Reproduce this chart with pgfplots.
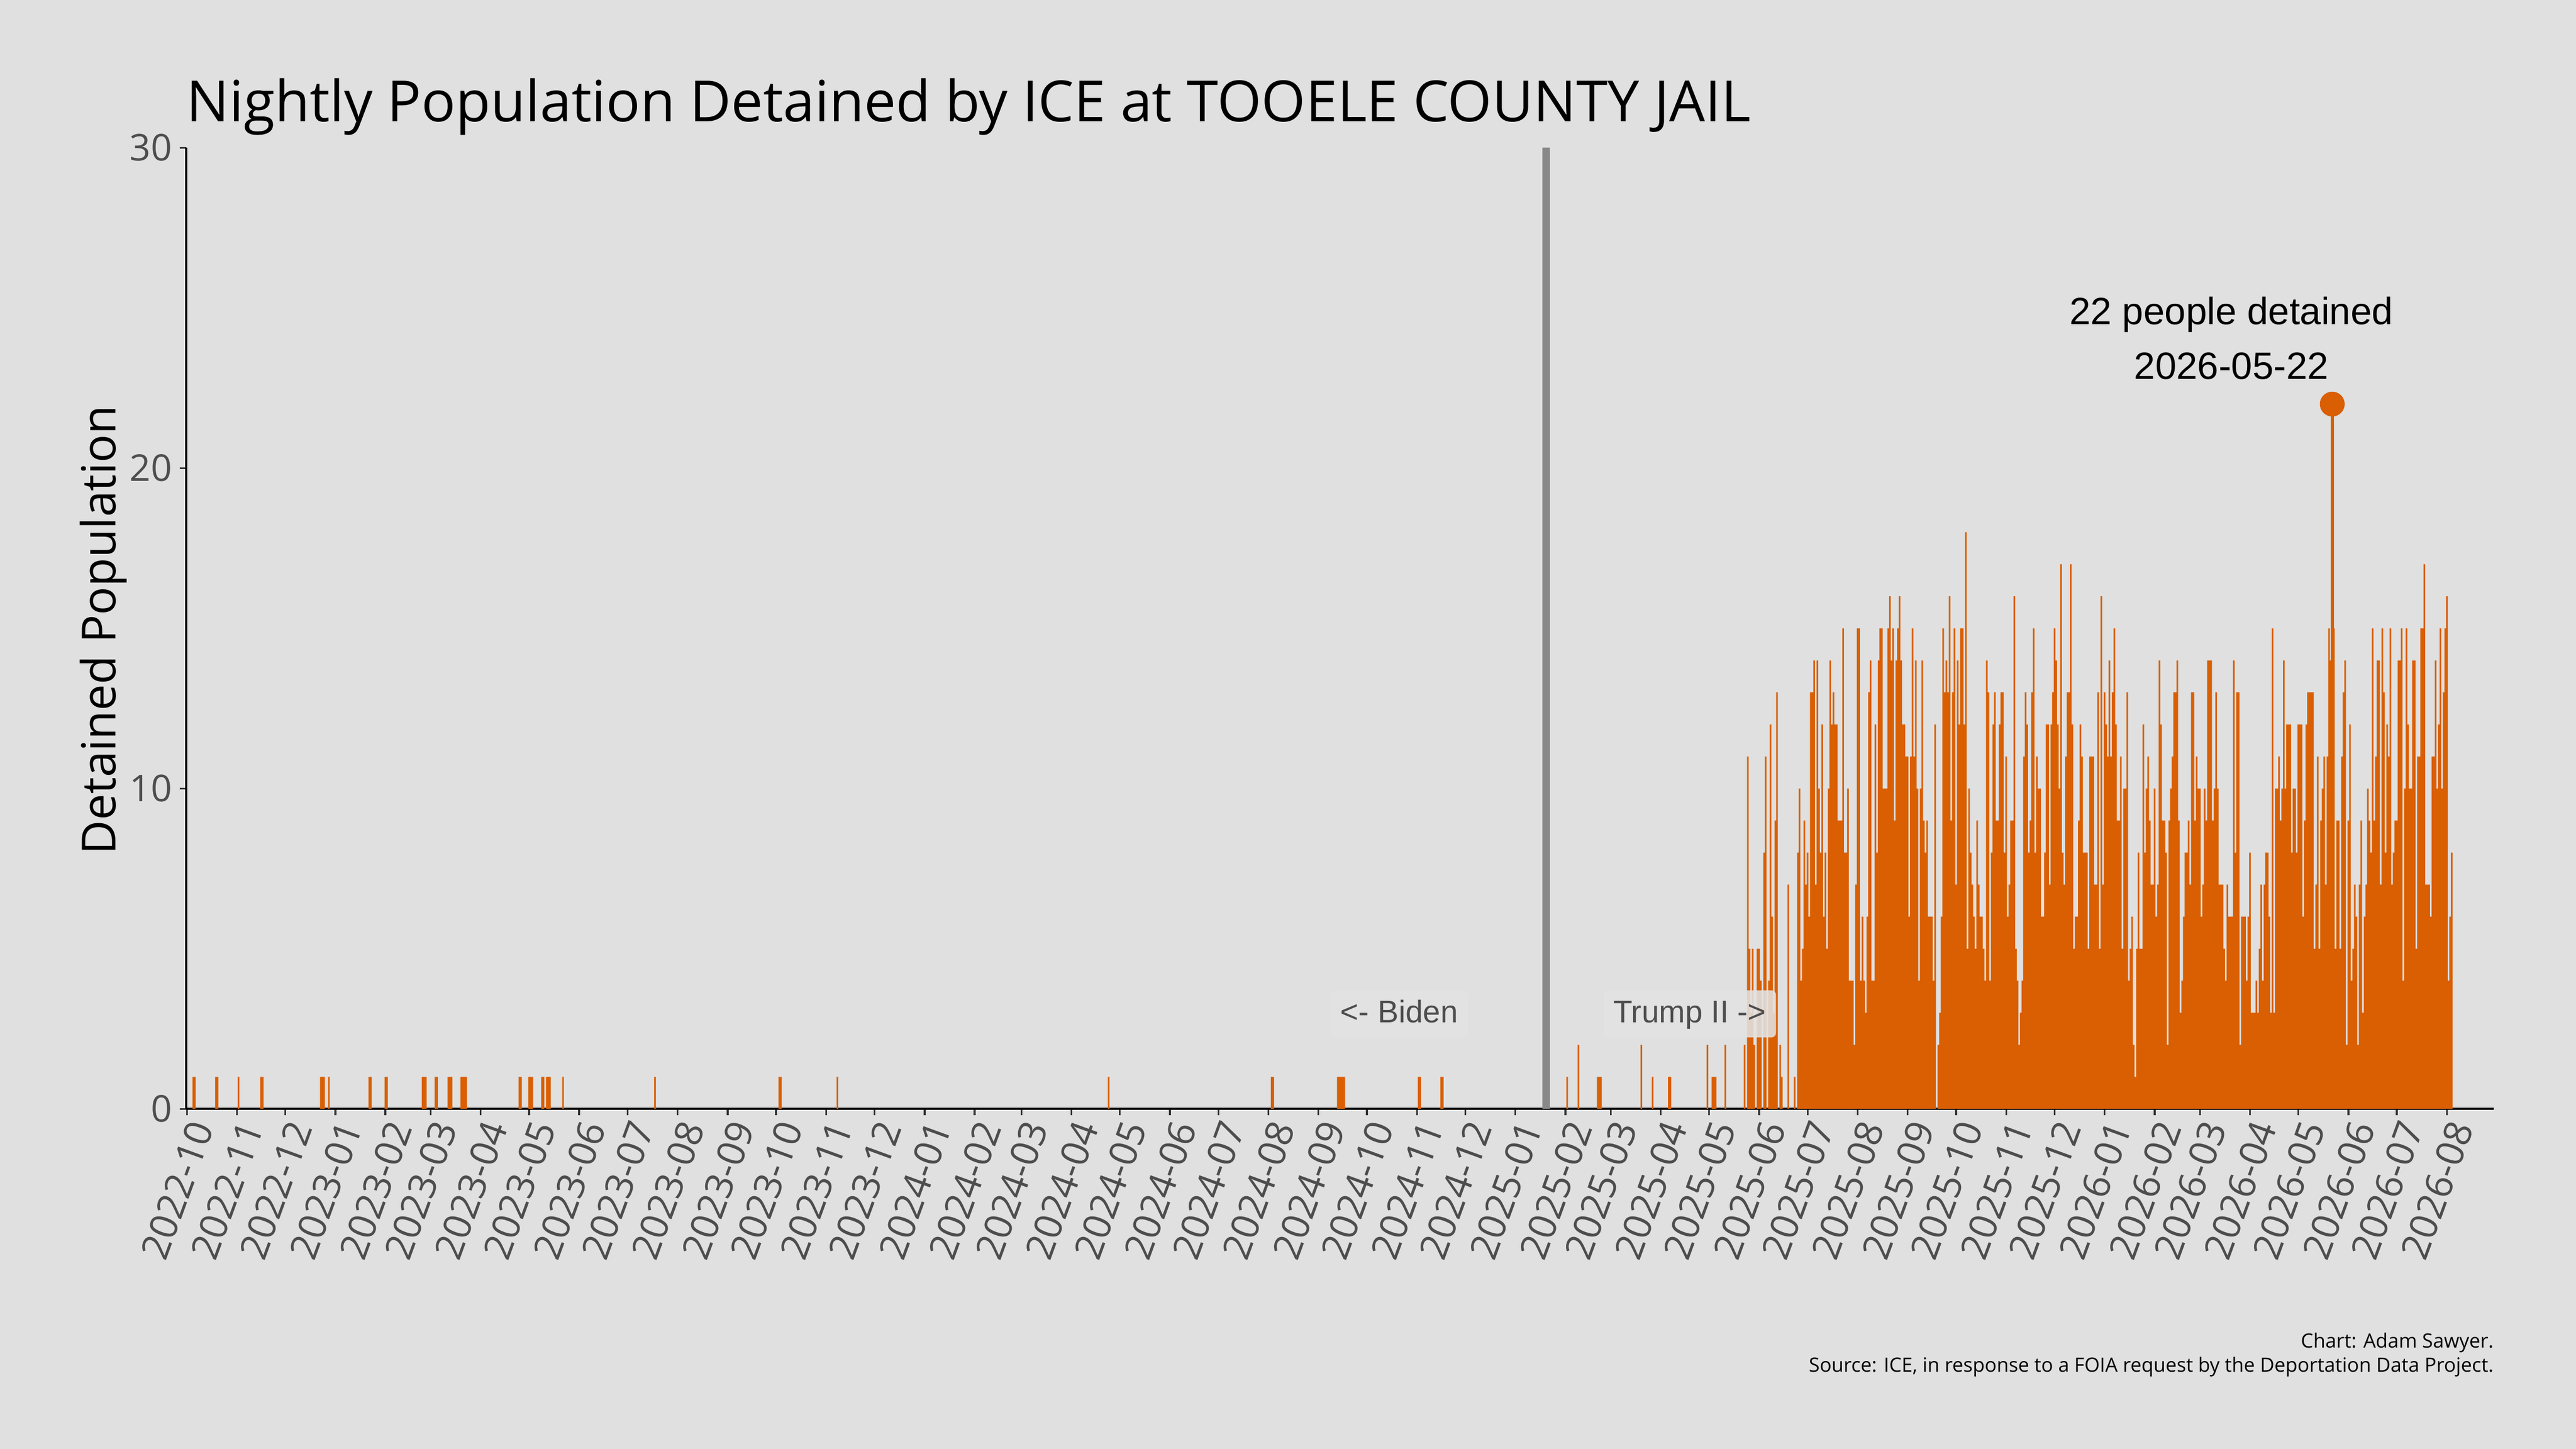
\documentclass[border=0pt]{standalone}
\usepackage{fontspec}
\setmainfont{Open Sans}
\newfontfamily\arialfont{Liberation Sans}
\usepackage{pgfplots}
\usepackage{pgfplotstable}
\pgfplotsset{compat=1.18}

\definecolor{bg}{HTML}{E0E0E0}
\definecolor{barcol}{HTML}{D95F02}
\definecolor{vline}{HTML}{888888}
\definecolor{tickgray}{HTML}{333333}
\definecolor{labgray}{HTML}{4D4D4D}
\definecolor{boxfill}{HTML}{E3E3E3}

% x = days since 2022-10-01, y = people held that night (zero rows only frame the runs)
\pgfplotstableread[row sep=\\]{
day pop\\
3 0\\4 1\\5 1\\6 0\\17 0\\18 1\\19 1\\20 0\\31 0\\32 1\\33 0\\45 0\\46 1\\47 1\\48 0\\
82 0\\83 1\\84 1\\85 1\\86 0\\87 0\\88 1\\89 0\\112 0\\113 1\\114 1\\115 0\\
122 0\\123 1\\124 1\\125 0\\145 0\\146 1\\147 1\\148 1\\149 0\\153 0\\154 1\\155 1\\156 0\\
161 0\\162 1\\163 1\\164 1\\165 0\\169 0\\170 1\\171 1\\172 1\\173 1\\174 0\\
205 0\\206 1\\207 1\\208 0\\211 0\\212 1\\213 1\\214 1\\215 0\\
219 0\\220 1\\221 1\\222 0\\223 1\\224 1\\225 1\\226 0\\232 0\\233 1\\234 0\\
289 0\\290 1\\291 0\\366 0\\367 1\\368 1\\369 0\\402 0\\403 1\\404 0\\570 0\\571 1\\572 0\\
671 0\\672 1\\673 1\\674 0\\712 0\\713 1\\714 1\\715 1\\716 1\\717 1\\718 0\\
762 0\\763 1\\764 1\\765 0\\776 0\\777 1\\778 1\\779 0\\
842 0\\843 1\\844 0\\854 0\\855 1\\856 0\\861 0\\862 2\\863 0\\873 0\\874 1\\875 1\\876 1\\877 0\\
900 0\\901 2\\902 0\\907 0\\908 1\\909 0\\917 0\\918 1\\919 1\\920 0\\
941 0\\942 2\\943 0\\944 0\\945 1\\946 1\\947 1\\948 0\\952 0\\953 2\\954 0\\
964 0\\965 2\\966 0\\967 11\\968 5\\969 3\\970 5\\971 2\\972 0\\973 5\\974 5\\975 4\\976 0\\
977 8\\978 11\\979 0\\980 4\\981 12\\982 6\\983 3\\984 9\\985 13\\986 0\\987 2\\988 1\\989 0\\
991 0\\992 7\\993 0\\995 0\\996 1\\997 0\\
998 8\\999 10\\1000 4\\1001 5\\1002 9\\1003 7\\1004 8\\1005 6\\1006 13\\1007 13\\
1008 14\\1009 7\\1010 14\\1011 10\\1012 8\\1013 12\\1014 6\\1015 8\\1016 5\\1017 10\\
1018 14\\1019 12\\1020 13\\1021 12\\1022 12\\1023 9\\1024 9\\1025 9\\1026 15\\1027 8\\
1028 8\\1029 10\\1030 4\\1031 4\\1032 4\\1033 2\\1034 7\\1035 15\\1036 15\\1037 4\\
1038 6\\1039 4\\1040 3\\1041 6\\1042 13\\1043 14\\1044 4\\1045 4\\1046 12\\1047 8\\
1048 14\\1049 15\\1050 15\\1051 10\\1052 10\\1053 10\\1054 15\\1055 16\\1056 14\\1057 15\\
1058 9\\1059 14\\1060 15\\1061 16\\1062 14\\1063 12\\1064 12\\1065 11\\1066 11\\1067 6\\
1068 11\\1069 15\\1070 11\\1071 14\\1072 10\\1073 4\\1074 10\\1075 14\\1076 9\\1077 8\\
1078 9\\1079 6\\1080 6\\1081 6\\1082 4\\1083 12\\1084 0\\1085 2\\1086 3\\1087 6\\
1088 15\\1089 13\\1090 14\\1091 13\\1092 16\\1093 9\\1094 13\\1095 15\\1096 7\\1097 14\\
1098 12\\1099 15\\1100 15\\1101 12\\1102 18\\1103 5\\1104 10\\1105 8\\1106 7\\1107 6\\
1108 5\\1109 9\\1110 7\\1111 6\\1112 6\\1113 5\\1114 4\\1115 14\\1116 13\\1117 4\\
1118 8\\1119 12\\1120 13\\1121 9\\1122 9\\1123 12\\1124 13\\1125 13\\1126 8\\1127 11\\
1128 6\\1129 7\\1130 9\\1131 9\\1132 16\\1133 5\\1134 4\\1135 2\\1136 3\\1137 4\\
1138 11\\1139 13\\1140 12\\1141 8\\1142 9\\1143 13\\1144 15\\1145 8\\1146 11\\1147 10\\
1148 10\\1149 6\\1150 6\\1151 8\\1152 12\\1153 12\\1154 7\\1155 12\\1156 13\\1157 15\\
1158 14\\1159 12\\1160 10\\1161 17\\1162 8\\1163 7\\1164 11\\1165 13\\1166 13\\1167 17\\
1168 12\\1169 5\\1170 6\\1171 6\\1172 9\\1173 12\\1174 11\\1175 8\\1176 8\\1177 8\\
1178 5\\1179 11\\1180 11\\1181 11\\1182 7\\1183 7\\1184 13\\1185 5\\1186 16\\1187 7\\
1188 13\\1189 12\\1190 11\\1191 14\\1192 11\\1193 13\\1194 15\\1195 12\\1196 9\\1197 9\\
1198 11\\1199 5\\1200 10\\1201 10\\1202 13\\1203 4\\1204 5\\1205 6\\1206 2\\1207 1\\
1208 5\\1209 8\\1210 5\\1211 5\\1212 12\\1213 8\\1214 10\\1215 11\\1216 9\\1217 7\\
1218 7\\1219 10\\1220 6\\1221 7\\1222 14\\1223 12\\1224 9\\1225 9\\1226 8\\1227 2\\
1228 9\\1229 10\\1230 11\\1231 13\\1232 13\\1233 14\\1234 9\\1235 3\\1236 4\\1237 6\\
1238 8\\1239 8\\1240 9\\1241 7\\1242 13\\1243 13\\1244 9\\1245 11\\1246 10\\1247 10\\
1248 6\\1249 7\\1250 10\\1251 9\\1252 14\\1253 14\\1254 14\\1255 9\\1256 10\\1257 13\\
1258 10\\1259 7\\1260 7\\1261 7\\1262 5\\1263 4\\1264 7\\1265 6\\1266 6\\1267 6\\
1268 14\\1269 8\\1270 13\\1271 13\\1272 2\\1273 6\\1274 6\\1275 6\\1276 4\\1277 6\\
1278 8\\1279 3\\1280 3\\1281 3\\1282 4\\1283 3\\1284 5\\1285 7\\1286 4\\1287 7\\
1288 8\\1289 8\\1290 6\\1291 3\\1292 15\\1293 3\\1294 10\\1295 10\\1296 11\\1297 9\\
1298 10\\1299 14\\1300 10\\1301 12\\1302 12\\1303 12\\1304 8\\1305 10\\1306 10\\1307 8\\
1308 12\\1309 12\\1310 12\\1311 6\\1312 9\\1313 12\\1314 13\\1315 13\\1316 13\\1317 13\\
1318 5\\1319 7\\1320 11\\1321 5\\1322 9\\1323 10\\1324 11\\1325 7\\1326 11\\1327 15\\
1328 14\\1329 22\\1330 15\\1331 5\\1332 9\\1333 9\\1334 5\\1335 11\\1336 13\\1337 14\\
1338 2\\1339 9\\1340 12\\1341 4\\1342 5\\1343 7\\1344 6\\1345 2\\1346 7\\1347 9\\
1348 3\\1349 6\\1350 7\\1351 10\\1352 9\\1353 8\\1354 15\\1355 9\\1356 11\\1357 14\\
1358 14\\1359 7\\1360 15\\1361 13\\1362 8\\1363 12\\1364 11\\1365 15\\1366 7\\1367 8\\
1368 9\\1369 9\\1370 14\\1371 14\\1372 15\\1373 4\\1374 10\\1375 15\\1376 12\\1377 10\\
1378 10\\1379 14\\1380 14\\1381 5\\1382 11\\1383 11\\1384 15\\1385 15\\1386 17\\1387 7\\
1388 7\\1389 7\\1390 6\\1391 11\\1392 11\\1393 14\\1394 10\\1395 12\\1396 15\\1397 10\\
1398 13\\1399 15\\1400 16\\1401 4\\1402 6\\1403 8\\1404 0\\
}\nightly

\begin{document}
\begin{tikzpicture}
\fill[bg] (0,0) rectangle (1152bp,648bp);

\node[anchor=base west, inner sep=0, font=\fontsize{25.4bp}{30bp}\selectfont]
  at (83.2bp,593.6bp) {Nightly Population Detained by ICE at TOOELE COUNTY JAIL};
\node[rotate=90, anchor=base, inner sep=0, font=\fontsize{21bp}{25bp}\selectfont]
  at (51.6bp,366.2bp) {Detained Population};
\node[anchor=base east, inner sep=0, font=\fontsize{8.8bp}{10bp}\selectfont]
  at (1115.3bp,45.3bp) {Chart: Adam Sawyer.};
\node[anchor=base east, inner sep=0, font=\fontsize{8.8bp}{10bp}\selectfont]
  at (1115.3bp,34.4bp) {Source: ICE, in response to a FOIA request by the Deportation Data Project.};

\begin{axis}[
  at={(83.2bp,152.1bp)}, anchor=south west,
  scale only axis, width=1032bp, height=429.8bp,
  xmin=-0.5, xmax=1429, ymin=0, ymax=30,
  axis lines=left,
  axis line style={-, black, line width=1bp},
  tick align=outside,
  major tick length=2.8bp,
  every tick/.style={tickgray, line width=0.8bp},
  clip=false,
  /pgf/number format/assume math mode=true,
  ytick={0,10,20,30},
  yticklabel style={font=\fontsize{16.5bp}{16.5bp}\selectfont, text=labgray},
  xtick={0,31,61,92,123,151,182,212,243,273,304,335,365,396,426,457,488,517,548,578,
         609,639,670,701,731,762,792,823,854,882,913,943,974,1004,1035,1066,1096,1127,
         1157,1188,1219,1247,1278,1308,1339,1369,1400},
  xticklabels={2022-10,2022-11,2022-12,2023-01,2023-02,2023-03,2023-04,2023-05,2023-06,
    2023-07,2023-08,2023-09,2023-10,2023-11,2023-12,2024-01,2024-02,2024-03,2024-04,
    2024-05,2024-06,2024-07,2024-08,2024-09,2024-10,2024-11,2024-12,2025-01,2025-02,
    2025-03,2025-04,2025-05,2025-06,2025-07,2025-08,2025-09,2025-10,2025-11,2025-12,
    2026-01,2026-02,2026-03,2026-04,2026-05,2026-06,2026-07,2026-08},
  xticklabel style={rotate=70, anchor=north east, inner sep=1bp,
    font=\fontsize{17bp}{17bp}\selectfont, text=labgray},
]
\addplot[fill=barcol, draw=none, const plot mark mid] table[x=day, y=pop] {\nightly} \closedcycle;
\addplot[vline, ycomb, line width=3.2bp] coordinates {(842,30)};
\addplot[barcol, ycomb, line width=1.3bp, mark=*, mark size=4.9bp,
  mark options={draw=none, fill=barcol}] coordinates {(1329,22)};

\node[anchor=base, fill=boxfill, fill opacity=0.88, text opacity=1, rounded corners=2bp,
  inner xsep=4.4bp, inner ysep=4bp, text height=10.3bp, text depth=2.7bp, text=labgray,
  font=\arialfont\fontsize{14bp}{14bp}\selectfont] at (axis cs:751,2.70) {<- Biden};
\node[anchor=base, fill=boxfill, fill opacity=0.88, text opacity=1, rounded corners=2bp,
  inner xsep=4.4bp, inner ysep=4bp, text height=10.3bp, text depth=2.7bp, text=labgray,
  font=\arialfont\fontsize{14bp}{14bp}\selectfont] at (axis cs:931,2.70) {Trump II ->};

\node[anchor=base, inner sep=0, font=\arialfont\fontsize{17bp}{17bp}\selectfont]
  at (axis cs:1266.5,24.49) {22 people detained};
\node[anchor=base, inner sep=0, font=\arialfont\fontsize{17bp}{17bp}\selectfont]
  at (axis cs:1266.5,22.77) {2026-05-22};
\end{axis}
\end{tikzpicture}
\end{document}
